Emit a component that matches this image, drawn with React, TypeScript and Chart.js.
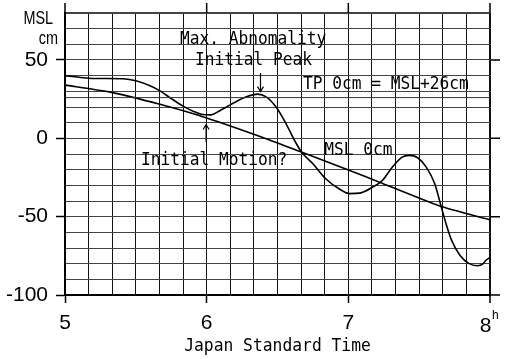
import React, { useEffect, useRef } from 'react';
import { Chart, registerables } from 'chart.js';

Chart.register(...registerables);

// Observed sea level (hours JST, cm relative to MSL)
const OBS_T = [5.0, 5.1, 5.2, 5.3, 5.41, 5.5, 5.6, 5.67, 5.74, 5.83, 5.9, 5.97, 6.03, 6.09, 6.15, 6.2, 6.28, 6.36, 6.42, 6.49, 6.56, 6.62, 6.67, 6.75, 6.84, 6.94, 7.01, 7.08, 7.17, 7.24, 7.31, 7.38, 7.43, 7.49, 7.55, 7.61, 7.65, 7.69, 7.73, 7.79, 7.85, 7.91, 7.95, 7.97, 8.0];
const OBS_V = [40, 39, 38.2, 38.2, 38, 36.7, 33.5, 30.3, 26, 20.7, 17.5, 15.2, 15, 17.5, 20.5, 23, 26.5, 28.2, 26.5, 20, 9.4, -1.3, -8.8, -16.2, -25.8, -32.5, -35.3, -35, -31.2, -26.9, -18.4, -12, -10.9, -12.4, -18.4, -29, -41.8, -54.6, -65.3, -74.9, -79.8, -81.3, -80.2, -78, -76];

// Predicted tide (trend) line
const TREND_T = [5.0, 5.32, 5.67, 6.0, 6.42, 6.65, 7.01, 7.22, 7.64, 8.0];
const TREND_V = [34, 29.5, 21.7, 13, -0.2, -8.1, -20.5, -28, -43, -52];

const TP_LEVEL = 26;

const X_MIN = 5;
const X_MAX = 8;
const X_MINOR_PER_HOUR = 6;
const X_LABELS = [5, 6, 7, 8];
const Y_MIN = -100;
const Y_MAX = 80;
const Y_STEP = 10;
const Y_LABELS = [50, 0, -50, -100];

const isMajorX = (v: number) => X_LABELS.some((l) => Math.abs(l - v) < 1e-6);
const isMajorY = (v: number) => Y_LABELS.some((l) => Math.abs(l - v) < 1e-6);

function sText(ctx: CanvasRenderingContext2D, s: string, x: number, y: number, font: string, sx: number, align: CanvasTextAlign = 'left') {
  ctx.save();
  ctx.font = font;
  ctx.textBaseline = 'alphabetic';
  ctx.textAlign = align;
  ctx.fillStyle = '#000';
  ctx.translate(x, y);
  ctx.scale(sx, 1);
  ctx.fillText(s, 0, 0);
  ctx.restore();
}

const MONO = '18px "DejaVu Sans Mono"';

const extras = {
  id: 'extras',
  afterDraw(chart: any) {
    const { ctx, chartArea: a, scales } = chart;
    const xs = scales.x;
    const ys = scales.y;
    const X = (t: number) => xs.getPixelForValue(t);
    const Y = (v: number) => ys.getPixelForValue(v);
    ctx.save();
    ctx.strokeStyle = '#000';
    ctx.lineWidth = 1.5;
    ctx.beginPath();
    for (const t of X_LABELS) {
      const px = X(t);
      ctx.moveTo(px, a.top - 10);
      ctx.lineTo(px, a.top);
    }
    for (const v of Y_LABELS) {
      const py = Y(v);
      ctx.moveTo(a.right, py);
      ctx.lineTo(a.right + 10, py);
    }
    ctx.stroke();

    // arrows
    ctx.lineWidth = 1.2;
    const arrow = (t: number, v0: number, v1: number) => {
      const px = X(t);
      const y0 = Y(v0);
      const y1 = Y(v1);
      const dir = y1 > y0 ? 1 : -1;
      ctx.beginPath();
      ctx.moveTo(px, y0);
      ctx.lineTo(px, y1);
      ctx.moveTo(px - 3, y1 - dir * 5);
      ctx.lineTo(px, y1);
      ctx.lineTo(px + 3, y1 - dir * 5);
      ctx.stroke();
    };
    arrow(6.38, 41.7, 29.8);
    arrow(5.996, -2.4, 8.8);

    // annotations (anchored in data units: time, cm)
    sText(ctx, 'Max. Abnomality', X(5.812), Y(60.5), MONO, 0.9);
    sText(ctx, 'Initial Peak', X(5.918), Y(46.8), MONO, 0.9);
    sText(ctx, 'TP 0cm = MSL+26cm', X(6.68), Y(31.5), MONO, 0.9);
    sText(ctx, 'MSL 0cm', X(6.83), Y(-10.6), MONO, 0.9);
    sText(ctx, 'Initial Motion?', X(5.536), Y(-17), MONO, 0.9);

    // axis titles
    sText(ctx, 'Japan Standard Time', (a.left + a.right) / 2, a.bottom + 55.5, '17px "DejaVu Sans Mono"', 0.96, 'center');
    sText(ctx, 'MSL', a.left - 12, a.top + 10.5, '18px "Liberation Sans"', 0.8, 'right');
    sText(ctx, 'cm', a.left - 7, a.top + 30.5, '19px "Liberation Sans"', 0.76, 'right');

    // last hour label with superscript h
    sText(ctx, '8', X(8) + 1.5, a.bottom + 36.7, '21px "Liberation Sans"', 1, 'right');
    sText(ctx, 'h', X(8) + 2, a.bottom + 23.5, '12px "Liberation Sans"', 1, 'left');
    ctx.restore();
  },
};

export default function App() {
  const ref = useRef<HTMLCanvasElement | null>(null);
  useEffect(() => {
    const canvas = ref.current;
    if (!canvas) return;
    const obs = OBS_T.map((t, i) => ({ x: t, y: OBS_V[i] }));
    const trend = TREND_T.map((t, i) => ({ x: t, y: TREND_V[i] }));
    const tp = [{ x: X_MIN, y: TP_LEVEL }, { x: X_MAX, y: TP_LEVEL }];
    const chart = new Chart(canvas, {
      type: 'line',
      data: {
        datasets: [
          { data: tp, borderColor: '#333', borderWidth: 1, pointRadius: 0, tension: 0 },
          { data: trend, borderColor: '#000', borderWidth: 1.6, pointRadius: 0, tension: 0.2 },
          { data: obs, borderColor: '#000', borderWidth: 1.6, pointRadius: 0, cubicInterpolationMode: 'monotone' },
        ],
      },
      options: {
        animation: false,
        responsive: false,
        devicePixelRatio: 1,
        layout: { padding: { top: 13, right: 16, left: 0, bottom: 0 } },
        plugins: { legend: { display: false }, tooltip: { enabled: false } },
        scales: {
          x: {
            type: 'linear',
            min: X_MIN,
            max: X_MAX,
            afterBuildTicks: (scale: any) => {
              const n = (X_MAX - X_MIN) * X_MINOR_PER_HOUR;
              const ticks = [];
              for (let i = 0; i <= n; i++) ticks.push({ value: X_MIN + i / X_MINOR_PER_HOUR });
              scale.ticks = ticks;
            },
            afterFit: (scale: any) => {
              scale.height = 64;
              scale.paddingLeft = 0;
              scale.paddingRight = 0;
            },
            ticks: {
              autoSkip: false,
              maxRotation: 0,
              padding: 8,
              color: '#000',
              font: { family: '"Liberation Sans"', size: 21 },
              callback: (v: any) => {
                const n = Number(v);
                if (Math.abs(n - X_MAX) < 1e-6) return '';
                return isMajorX(n) ? String(Math.round(n)) : '';
              },
            },
            grid: {
              color: '#111',
              lineWidth: (c: any) => (c.tick && Math.abs(c.tick.value - X_MAX) < 1e-6 ? 2 : 1),
              tickLength: 8,
              tickColor: (c: any) => (c.tick && isMajorX(c.tick.value) ? '#000' : 'rgba(0,0,0,0)'),
              tickWidth: 1.5,
            },
            border: { display: true, color: '#000', width: 2 },
          },
          y: {
            type: 'linear',
            min: Y_MIN,
            max: Y_MAX,
            afterBuildTicks: (scale: any) => {
              const ticks = [];
              for (let v = Y_MIN; v <= Y_MAX; v += Y_STEP) ticks.push({ value: v });
              scale.ticks = ticks;
            },
            afterFit: (scale: any) => {
              scale.width = 65;
              scale.paddingTop = 0;
              scale.paddingBottom = 0;
            },
            ticks: {
              autoSkip: false,
              padding: 8,
              color: '#000',
              font: { family: '"Liberation Sans"', size: 21 },
              callback: (v: any) => (isMajorY(Number(v)) ? String(Number(v)) : ''),
            },
            grid: {
              color: '#444',
              lineWidth: (c: any) => (c.tick && Math.abs(c.tick.value - Y_MAX) < 1e-6 ? 2 : 1),
              tickLength: 9,
              tickColor: (c: any) => (c.tick && isMajorY(c.tick.value) ? '#000' : 'rgba(0,0,0,0)'),
              tickWidth: 1.5,
            },
            border: { display: true, color: '#000', width: 2 },
          },
        },
      },
      plugins: [extras],
    } as any);
    return () => chart.destroy();
  }, []);
  return (
    <div style={{ position: 'absolute', left: 0, top: 0, width: 506, height: 359, background: '#fff' }}>
      <canvas ref={ref} width={506} height={359} style={{ width: 506, height: 359, display: 'block' }} />
    </div>
  );
}
